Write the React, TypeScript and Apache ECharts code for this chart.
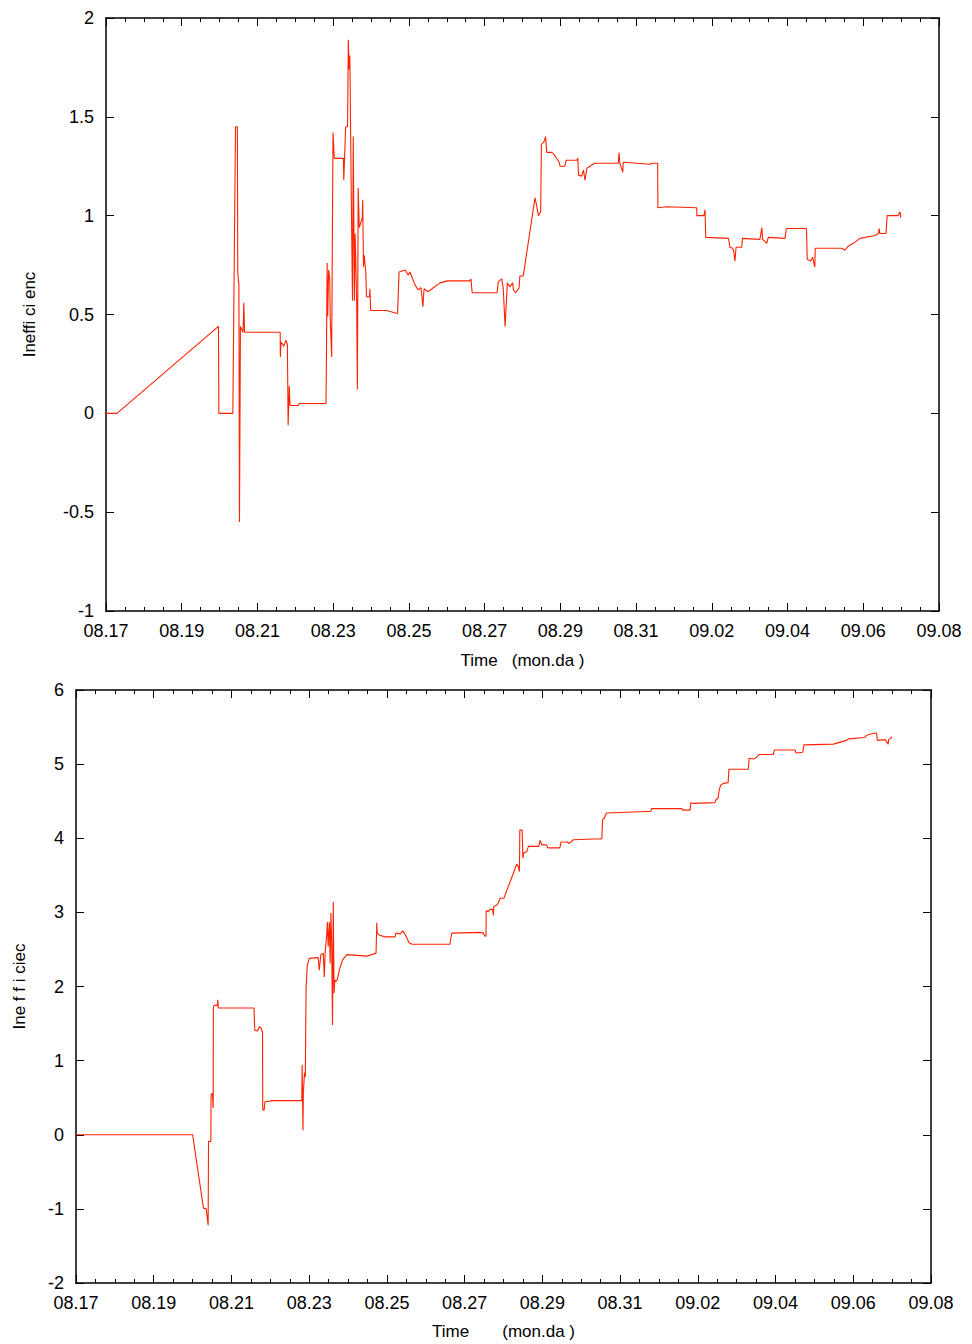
import React, { useEffect, useRef } from "react";
import * as echarts from "echarts";

// x tick labels (every 2 days starting 08.17)
const xTickLabels = ["08.17", "08.19", "08.21", "08.23", "08.25", "08.27", "08.29", "08.31", "09.02", "09.04", "09.06", "09.08"];

// Top panel: days since 08.17 and inefficiency
const topDays = [
  0, 0.29, 2.97, 2.98, 3.35, 3.42, 3.47, 3.48, 3.51, 3.525, 3.55, 3.62, 3.64, 3.66, 4.6, 4.605, 4.62, 4.7, 4.75, 4.79,
  4.81, 4.84, 4.86, 5.09, 5.1, 5.81, 5.82, 5.84, 5.855, 5.88, 5.91, 5.92, 5.96, 5.99, 5.995, 6.03, 6.27, 6.28, 6.33, 6.38,
  6.4, 6.42, 6.44, 6.48, 6.51, 6.53, 6.56, 6.58, 6.62, 6.64, 6.66, 6.69, 6.77, 6.78, 6.8, 6.82, 6.86, 6.88, 6.96, 6.97,
  6.99, 7.41, 7.5, 7.7, 7.74, 7.9, 7.98, 8.03, 8.16, 8.24, 8.32, 8.37, 8.4, 8.5, 8.61, 8.82, 9.03, 9.61, 9.64, 9.67,
  10.33, 10.36, 10.45, 10.49, 10.54, 10.6, 10.67, 10.74, 10.76, 10.82, 10.91, 10.93, 11.02, 11.33, 11.37, 11.42, 11.48, 11.5, 11.57, 11.61,
  11.64, 11.77, 11.83, 11.97, 11.99, 12.12, 12.15, 12.43, 12.46, 12.48, 12.56, 12.61, 12.65, 12.7, 12.78, 12.91, 13.53, 13.55, 13.57, 13.65,
  13.66, 14.37, 14.41, 14.57, 14.575, 14.81, 15.6, 15.605, 15.79, 15.82, 15.84, 16.44, 16.48, 16.55, 16.58, 16.61, 16.64, 16.79, 16.81, 17.27,
  17.32, 17.34, 17.4, 17.45, 17.49, 17.93, 17.97, 18.5, 18.52, 18.61, 18.66, 18.72, 18.73, 19.43, 19.52, 19.6, 19.74, 19.91, 20.31, 20.4,
  20.42, 20.44, 20.6, 20.63, 20.92, 20.97, 20.99,
];
const topValues = [
  0, 0, 0.44, 0, 0, 1.45, 1.45, 0.71, 0.65, -0.55, 0.44, 0.41, 0.56, 0.41, 0.41, 0.285, 0.36, 0.34, 0.37, 0.35,
  -0.06, 0.14, 0.04, 0.04, 0.05, 0.05, 0.235, 0.76, 0.49, 0.725, 0.675, 0.49, 0.285, 1.25, 1.42, 1.29, 1.29, 1.18, 1.45, 1.45,
  1.89, 1.74, 1.81, 1.06, 0.57, 1.4, 0.57, 0.91, 0.57, 0.12, 1.14, 0.94, 0.99, 1.08, 0.74, 0.8, 0.72, 0.59, 0.59, 0.63,
  0.52, 0.52, 0.515, 0.505, 0.715, 0.725, 0.7, 0.715, 0.65, 0.625, 0.635, 0.54, 0.63, 0.615, 0.63, 0.66, 0.67, 0.67, 0.68, 0.61,
  0.61, 0.665, 0.68, 0.635, 0.44, 0.66, 0.64, 0.66, 0.625, 0.61, 0.635, 0.695, 0.695, 1.09, 1.055, 1.0, 1.02, 1.36, 1.375, 1.4,
  1.32, 1.32, 1.31, 1.27, 1.25, 1.25, 1.28, 1.28, 1.29, 1.205, 1.2, 1.23, 1.18, 1.24, 1.25, 1.265, 1.265, 1.32, 1.265, 1.22,
  1.27, 1.26, 1.265, 1.265, 1.04, 1.045, 1.04, 1.0, 1.0, 1.03, 0.89, 0.885, 0.84, 0.835, 0.82, 0.77, 0.84, 0.84, 0.885, 0.88,
  0.94, 0.88, 0.87, 0.86, 0.89, 0.885, 0.935, 0.935, 0.78, 0.77, 0.79, 0.74, 0.835, 0.835, 0.825, 0.845, 0.86, 0.885, 0.9, 0.91,
  0.935, 0.91, 0.91, 1.0, 1.0, 1.02, 0.99,
];

// Bottom panel: days since 08.17 and inefficiency
const bottomDays = [
  0, 3.0, 3.28, 3.35, 3.4, 3.41, 3.47, 3.475, 3.51, 3.53, 3.535, 3.57, 3.63, 3.65, 3.66, 4.58, 4.6, 4.67, 4.72, 4.76,
  4.8, 4.805, 4.84, 4.86, 5.08, 5.81, 5.82, 5.84, 5.85, 5.88, 5.9, 5.92, 5.95, 6.0, 6.23, 6.26, 6.3, 6.36, 6.39, 6.41,
  6.45, 6.47, 6.49, 6.52, 6.54, 6.56, 6.58, 6.6, 6.62, 6.64, 6.66, 6.69, 6.72, 6.76, 6.79, 6.83, 6.86, 6.97, 7.48, 7.61,
  7.72, 7.74, 7.75, 7.82, 7.95, 8.21, 8.23, 8.34, 8.41, 8.49, 8.57, 8.65, 9.62, 9.67, 10.4, 10.48, 10.52, 10.55, 10.555, 10.61,
  10.65, 10.72, 10.74, 10.75, 10.83, 10.87, 10.91, 11.01, 11.34, 11.38, 11.41, 11.42, 11.48, 11.5, 11.52, 11.6, 11.64, 11.91, 11.94, 11.99,
  12.11, 12.14, 12.45, 12.48, 12.64, 12.69, 12.8, 13.31, 13.5, 13.53, 13.55, 13.59, 13.65, 14.68, 14.79, 14.81, 15.59, 15.61, 15.8, 15.82,
  15.88, 16.44, 16.47, 16.52, 16.55, 16.59, 16.66, 16.78, 16.8, 17.3, 17.32, 17.43, 17.51, 17.58, 17.94, 17.97, 18.5, 18.53, 18.7, 18.73,
  19.49, 19.62, 19.83, 19.87, 20.3, 20.34, 20.56, 20.6, 20.62, 20.82, 20.86, 20.9, 20.91, 20.96, 20.99,
];
const bottomValues = [
  0, 0, -0.99, -1.0, -1.22, -0.09, -0.09, 0.54, 0.56, 0.36, 1.73, 1.75, 1.74, 1.82, 1.71, 1.71, 1.41, 1.4, 1.46, 1.44,
  1.38, 0.33, 0.33, 0.445, 0.46, 0.46, 0.94, 0.06, 0.56, 0.84, 0.78, 1.98, 2.28, 2.38, 2.39, 2.22, 2.43, 2.45, 2.13, 2.45,
  2.69, 2.87, 2.54, 2.87, 2.31, 2.99, 2.56, 1.48, 3.14, 1.91, 2.09, 2.07, 2.09, 2.18, 2.25, 2.31, 2.36, 2.43, 2.41, 2.43,
  2.45, 2.86, 2.72, 2.69, 2.67, 2.67, 2.72, 2.71, 2.75, 2.68, 2.59, 2.57, 2.57, 2.72, 2.73, 2.72, 2.68, 2.68, 3.02, 3.01,
  3.04, 3.04, 2.96, 3.08, 3.1, 3.13, 3.19, 3.19, 3.65, 3.62, 3.55, 4.11, 4.11, 3.73, 3.8, 3.82, 3.89, 3.89, 3.97, 3.91,
  3.91, 3.87, 3.87, 3.95, 3.95, 3.93, 3.98, 3.99, 3.99, 4.0, 4.25, 4.27, 4.34, 4.36, 4.36, 4.4, 4.4, 4.38, 4.38, 4.48,
  4.47, 4.48, 4.52, 4.54, 4.65, 4.72, 4.74, 4.75, 4.93, 4.93, 5.08, 5.07, 5.09, 5.13, 5.13, 5.19, 5.19, 5.15, 5.16, 5.26,
  5.27, 5.29, 5.32, 5.34, 5.36, 5.39, 5.42, 5.42, 5.32, 5.33, 5.3, 5.27, 5.33, 5.35, 5.37,
];

const FONT = "'Liberation Sans', Arial, Helvetica, sans-serif";
const LINE_COLOR = "#ff2200";

function xAxisPair(gridIndex: number, name: string, nameGap: number) {
  const common = {
    type: "value" as const,
    gridIndex,
    min: 0,
    max: 22,
    interval: 2,
    splitLine: { show: false },
    axisLine: { show: true, onZero: false, lineStyle: { color: "#000", width: 1.5 } },
    axisTick: { show: true, inside: true, length: 8, lineStyle: { color: "#000", width: 1 } },
    minorTick: { show: true, splitNumber: 4, length: 4, lineStyle: { color: "#000", width: 1 } },
  };
  return [
    {
      ...common,
      position: "bottom",
      name,
      nameLocation: "middle",
      nameGap,
      nameTextStyle: { fontFamily: FONT, fontSize: 17, color: "#000" },
      axisLabel: {
        show: true,
        margin: 11,
        fontFamily: FONT,
        fontSize: 18,
        color: "#000",
        formatter: (v: number) => xTickLabels[Math.round(v / 2)] ?? "",
      },
    },
    { ...common, position: "top", axisLabel: { show: false } },
  ];
}

function yAxisPair(gridIndex: number, min: number, max: number, interval: number, name: string, nameGap: number) {
  const common = {
    type: "value" as const,
    gridIndex,
    min,
    max,
    interval,
    splitLine: { show: false },
    axisLine: { show: true, onZero: false, lineStyle: { color: "#000", width: 1.5 } },
    axisTick: { show: true, inside: true, length: 8, lineStyle: { color: "#000", width: 1 } },
  };
  return [
    {
      ...common,
      position: "left",
      name,
      nameLocation: "middle",
      nameGap,
      nameTextStyle: { fontFamily: FONT, fontSize: 17, color: "#000" },
      axisLabel: { show: true, margin: 12, fontFamily: FONT, fontSize: 18, color: "#000" },
    },
    { ...common, position: "right", axisLabel: { show: false } },
  ];
}

export default function App() {
  const ref = useRef<HTMLDivElement>(null);
  useEffect(() => {
    if (!ref.current) return;
    const chart = echarts.init(ref.current, undefined, { renderer: "svg" });
    const topData = topDays.map((d, i) => [d, topValues[i]]);
    const bottomData = bottomDays.map((d, i) => [d, bottomValues[i]]);
    chart.setOption({
      animation: false,
      backgroundColor: "#fff",
      grid: [
        { left: 106, top: 18, width: 833, height: 593, containLabel: false, outerBoundsMode: "none" },
        { left: 76, top: 690, width: 855, height: 593, containLabel: false, outerBoundsMode: "none" },
      ],
      xAxis: [...xAxisPair(0, "Time   (mon.da )", 41), ...xAxisPair(1, "Time       (mon.da )", 40)],
      yAxis: [
        ...yAxisPair(0, -1, 2, 0.5, "Ineffi ci enc", 68),
        ...yAxisPair(1, -2, 6, 1, "Ine f f i ciec", 48),
      ],
      series: [
        {
          type: "line",
          xAxisIndex: 0,
          yAxisIndex: 0,
          data: topData,
          showSymbol: false,
          symbol: "none",
          lineStyle: { color: LINE_COLOR, width: 1.1 },
          itemStyle: { color: LINE_COLOR },
          clip: true,
        },
        {
          type: "line",
          xAxisIndex: 2,
          yAxisIndex: 2,
          data: bottomData,
          showSymbol: false,
          symbol: "none",
          lineStyle: { color: LINE_COLOR, width: 1.1 },
          itemStyle: { color: LINE_COLOR },
          clip: true,
        },
      ],
    });
    return () => chart.dispose();
  }, []);
  return (
    <div
      ref={ref}
      style={{ position: "absolute", left: 0, top: 0, width: 972, height: 1344, background: "#fff" }}
    />
  );
}
